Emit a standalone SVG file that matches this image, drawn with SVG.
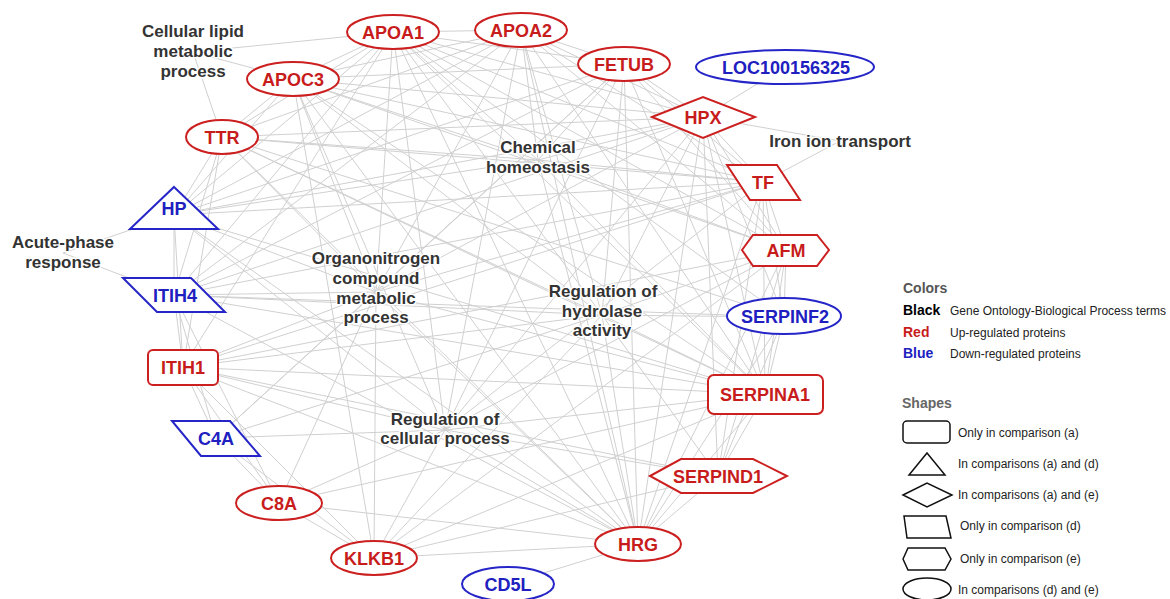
<svg xmlns="http://www.w3.org/2000/svg" width="1170" height="599" viewBox="0 0 1170 599">
<style>
.e line{stroke:#d0d0d0;stroke-width:1}
.r{fill:#fff;stroke:#cc2020;stroke-width:2}
.b{fill:#fff;stroke:#2626c8;stroke-width:2}
.rt{fill:#c81c1c;font:bold 18px "Liberation Sans",Arial,sans-serif;text-anchor:middle}
.bt{fill:#2020c0;font:bold 18px "Liberation Sans",Arial,sans-serif;text-anchor:middle}
.go{fill:#333;font:bold 17px "Liberation Sans",Arial,sans-serif;text-anchor:middle;stroke:#fff;stroke-width:3;paint-order:stroke;stroke-linejoin:round}
.lh{font:bold 14px "Liberation Sans",Arial,sans-serif;fill:#555}
.lt{font:12px "Liberation Sans",Arial,sans-serif;fill:#222}
.ls{fill:none;stroke:#111;stroke-width:1.5}
</style>
<rect width="1170" height="599" fill="#fff"/>
<g id="connectors" class="e">
<line x1="393" y1="32" x2="521" y2="30"/><line x1="393" y1="32" x2="293" y2="79"/><line x1="393" y1="32" x2="222" y2="137"/><line x1="393" y1="32" x2="174" y2="215"/><line x1="393" y1="32" x2="174" y2="295"/><line x1="393" y1="32" x2="183" y2="367"/><line x1="393" y1="32" x2="624" y2="64"/><line x1="393" y1="32" x2="703" y2="117"/><line x1="393" y1="32" x2="763" y2="182"/><line x1="393" y1="32" x2="786" y2="250"/><line x1="393" y1="32" x2="765" y2="394"/><line x1="393" y1="32" x2="638" y2="544"/><line x1="393" y1="32" x2="784" y2="317"/>
<line x1="521" y1="30" x2="293" y2="79"/><line x1="521" y1="30" x2="222" y2="137"/><line x1="521" y1="30" x2="624" y2="64"/><line x1="521" y1="30" x2="703" y2="117"/><line x1="521" y1="30" x2="763" y2="182"/><line x1="521" y1="30" x2="638" y2="544"/><line x1="521" y1="30" x2="765" y2="394"/><line x1="521" y1="30" x2="786" y2="250"/><line x1="521" y1="30" x2="174" y2="215"/><line x1="521" y1="30" x2="174" y2="295"/>
<line x1="293" y1="79" x2="222" y2="137"/><line x1="293" y1="79" x2="174" y2="215"/><line x1="293" y1="79" x2="703" y2="117"/><line x1="293" y1="79" x2="763" y2="182"/><line x1="293" y1="79" x2="765" y2="394"/><line x1="293" y1="79" x2="638" y2="544"/><line x1="293" y1="79" x2="624" y2="64"/><line x1="293" y1="79" x2="374" y2="558"/><line x1="293" y1="79" x2="786" y2="250"/>
<line x1="624" y1="64" x2="703" y2="117"/><line x1="624" y1="64" x2="763" y2="182"/><line x1="624" y1="64" x2="638" y2="544"/><line x1="624" y1="64" x2="174" y2="215"/><line x1="624" y1="64" x2="174" y2="295"/><line x1="624" y1="64" x2="765" y2="394"/><line x1="624" y1="64" x2="786" y2="250"/><line x1="624" y1="64" x2="216" y2="438"/>
<line x1="703" y1="117" x2="763" y2="182"/><line x1="703" y1="117" x2="786" y2="250"/><line x1="703" y1="117" x2="784" y2="317"/><line x1="703" y1="117" x2="765" y2="394"/><line x1="703" y1="117" x2="638" y2="544"/><line x1="703" y1="117" x2="174" y2="215"/><line x1="703" y1="117" x2="174" y2="295"/><line x1="703" y1="117" x2="222" y2="137"/><line x1="703" y1="117" x2="718" y2="476"/><line x1="703" y1="117" x2="785" y2="67"/>
<line x1="763" y1="182" x2="786" y2="250"/><line x1="763" y1="182" x2="784" y2="317"/><line x1="763" y1="182" x2="765" y2="394"/><line x1="763" y1="182" x2="638" y2="544"/><line x1="763" y1="182" x2="174" y2="215"/><line x1="763" y1="182" x2="174" y2="295"/><line x1="763" y1="182" x2="222" y2="137"/><line x1="763" y1="182" x2="718" y2="476"/><line x1="763" y1="182" x2="183" y2="367"/>
<line x1="786" y1="250" x2="784" y2="317"/><line x1="786" y1="250" x2="765" y2="394"/><line x1="786" y1="250" x2="638" y2="544"/><line x1="786" y1="250" x2="183" y2="367"/><line x1="786" y1="250" x2="718" y2="476"/><line x1="786" y1="250" x2="374" y2="558"/>
<line x1="784" y1="317" x2="765" y2="394"/><line x1="784" y1="317" x2="638" y2="544"/><line x1="784" y1="317" x2="718" y2="476"/><line x1="784" y1="317" x2="174" y2="295"/><line x1="784" y1="317" x2="222" y2="137"/>
<line x1="765" y1="394" x2="718" y2="476"/><line x1="765" y1="394" x2="638" y2="544"/><line x1="765" y1="394" x2="183" y2="367"/><line x1="765" y1="394" x2="174" y2="295"/><line x1="765" y1="394" x2="174" y2="215"/><line x1="765" y1="394" x2="374" y2="558"/><line x1="765" y1="394" x2="279" y2="503"/><line x1="765" y1="394" x2="222" y2="137"/>
<line x1="718" y1="476" x2="638" y2="544"/><line x1="718" y1="476" x2="374" y2="558"/><line x1="718" y1="476" x2="183" y2="367"/>
<line x1="638" y1="544" x2="508" y2="584"/><line x1="638" y1="544" x2="374" y2="558"/><line x1="638" y1="544" x2="279" y2="503"/><line x1="638" y1="544" x2="183" y2="367"/><line x1="638" y1="544" x2="174" y2="295"/><line x1="638" y1="544" x2="174" y2="215"/><line x1="638" y1="544" x2="222" y2="137"/>
<line x1="374" y1="558" x2="279" y2="503"/><line x1="374" y1="558" x2="183" y2="367"/><line x1="374" y1="558" x2="216" y2="438"/>
<line x1="279" y1="503" x2="216" y2="438"/><line x1="279" y1="503" x2="183" y2="367"/><line x1="279" y1="503" x2="174" y2="295"/>
<line x1="216" y1="438" x2="183" y2="367"/><line x1="216" y1="438" x2="174" y2="295"/>
<line x1="183" y1="367" x2="174" y2="295"/><line x1="183" y1="367" x2="174" y2="215"/><line x1="183" y1="367" x2="222" y2="137"/>
<line x1="174" y1="295" x2="174" y2="215"/><line x1="174" y1="295" x2="222" y2="137"/><line x1="174" y1="215" x2="222" y2="137"/>
<line x1="193" y1="52" x2="393" y2="32"/><line x1="193" y1="52" x2="293" y2="79"/><line x1="193" y1="52" x2="222" y2="137"/>
<line x1="63" y1="253" x2="174" y2="215"/><line x1="63" y1="253" x2="174" y2="295"/>
<line x1="840" y1="141" x2="763" y2="182"/><line x1="840" y1="141" x2="703" y2="117"/>
<line x1="538" y1="160" x2="393" y2="32"/><line x1="538" y1="160" x2="521" y2="30"/><line x1="538" y1="160" x2="293" y2="79"/><line x1="538" y1="160" x2="222" y2="137"/><line x1="538" y1="160" x2="703" y2="117"/><line x1="538" y1="160" x2="763" y2="182"/><line x1="538" y1="160" x2="624" y2="64"/><line x1="538" y1="160" x2="174" y2="215"/><line x1="538" y1="160" x2="786" y2="250"/><line x1="538" y1="160" x2="638" y2="544"/><line x1="538" y1="160" x2="765" y2="394"/>
<line x1="376" y1="292" x2="393" y2="32"/><line x1="376" y1="292" x2="521" y2="30"/><line x1="376" y1="292" x2="293" y2="79"/><line x1="376" y1="292" x2="222" y2="137"/><line x1="376" y1="292" x2="174" y2="215"/><line x1="376" y1="292" x2="174" y2="295"/><line x1="376" y1="292" x2="183" y2="367"/><line x1="376" y1="292" x2="216" y2="438"/><line x1="376" y1="292" x2="279" y2="503"/><line x1="376" y1="292" x2="374" y2="558"/><line x1="376" y1="292" x2="765" y2="394"/><line x1="376" y1="292" x2="638" y2="544"/><line x1="376" y1="292" x2="703" y2="117"/><line x1="376" y1="292" x2="763" y2="182"/><line x1="376" y1="292" x2="624" y2="64"/>
<line x1="602" y1="315" x2="393" y2="32"/><line x1="602" y1="315" x2="521" y2="30"/><line x1="602" y1="315" x2="293" y2="79"/><line x1="602" y1="315" x2="624" y2="64"/><line x1="602" y1="315" x2="703" y2="117"/><line x1="602" y1="315" x2="765" y2="394"/><line x1="602" y1="315" x2="718" y2="476"/><line x1="602" y1="315" x2="784" y2="317"/><line x1="602" y1="315" x2="638" y2="544"/><line x1="602" y1="315" x2="183" y2="367"/><line x1="602" y1="315" x2="174" y2="295"/><line x1="602" y1="315" x2="374" y2="558"/><line x1="602" y1="315" x2="216" y2="438"/><line x1="602" y1="315" x2="786" y2="250"/><line x1="602" y1="315" x2="222" y2="137"/>
<line x1="445" y1="430" x2="393" y2="32"/><line x1="445" y1="430" x2="293" y2="79"/><line x1="445" y1="430" x2="174" y2="215"/><line x1="445" y1="430" x2="183" y2="367"/><line x1="445" y1="430" x2="216" y2="438"/><line x1="445" y1="430" x2="279" y2="503"/><line x1="445" y1="430" x2="374" y2="558"/><line x1="445" y1="430" x2="638" y2="544"/><line x1="445" y1="430" x2="765" y2="394"/><line x1="445" y1="430" x2="718" y2="476"/><line x1="445" y1="430" x2="786" y2="250"/><line x1="445" y1="430" x2="763" y2="182"/><line x1="445" y1="430" x2="703" y2="117"/><line x1="445" y1="430" x2="624" y2="64"/><line x1="445" y1="430" x2="521" y2="30"/>
</g>
<g id="go-cellular-lipid"><text class="go" x="193" y="37">Cellular lipid<tspan x="193" y="57">metabolic</tspan><tspan x="193" y="77">process</tspan></text></g>
<g id="go-acute-phase"><text class="go" x="63" y="248">Acute-phase<tspan x="63" y="268">response</tspan></text></g>
<g id="go-chemical"><text class="go" x="538" y="153">Chemical<tspan x="538" y="173">homeostasis</tspan></text></g>
<g id="go-iron"><text class="go" x="840" y="147">Iron ion transport</text></g>
<g id="go-organonitrogen"><text class="go" x="376" y="264">Organonitrogen<tspan x="376" y="284">compound</tspan><tspan x="376" y="304">metabolic</tspan><tspan x="376" y="323">process</tspan></text></g>
<g id="go-hydrolase"><text class="go" x="603" y="297">Regulation of<tspan x="602" y="317">hydrolase</tspan><tspan x="602" y="336">activity</tspan></text></g>
<g id="go-cellular-process"><text class="go" x="445" y="425">Regulation of<tspan x="445" y="444">cellular process</tspan></text></g>
<g id="APOA1"><ellipse class="r" cx="393" cy="32" rx="46" ry="17"/><text class="rt" x="393" y="38.5">APOA1</text></g>
<g id="APOA2"><ellipse class="r" cx="521" cy="30" rx="46" ry="17"/><text class="rt" x="521" y="36.5">APOA2</text></g>
<g id="FETUB"><ellipse class="r" cx="624" cy="64" rx="46" ry="17"/><text class="rt" x="624" y="70.5">FETUB</text></g>
<g id="LOC100156325"><ellipse class="b" cx="785" cy="67" rx="89" ry="17"/><text class="bt" x="786" y="73.5">LOC100156325</text></g>
<g id="HPX"><polygon class="r" points="652,117 703,97 755,117 703,138"/><text class="rt" x="703" y="124">HPX</text></g>
<g id="TF"><polygon class="r" points="727,165 777,165 800,200 750,200"/><text class="rt" x="763" y="189">TF</text></g>
<g id="AFM"><polygon class="r" points="742,250 753,235 817,235 829,250 817,266 753,266"/><text class="rt" x="786" y="257">AFM</text></g>
<g id="SERPINF2"><ellipse class="b" cx="784" cy="316" rx="57" ry="18"/><text class="bt" x="785" y="322.5">SERPINF2</text></g>
<g id="SERPINA1"><rect class="r" x="708" y="375" width="115" height="39" rx="6"/><text class="rt" x="765" y="400.5">SERPINA1</text></g>
<g id="SERPIND1"><polygon class="r" points="650,476 681,459 753,459 787,476 753,493 681,493"/><text class="rt" x="718" y="482.5">SERPIND1</text></g>
<g id="HRG"><ellipse class="r" cx="638" cy="544" rx="43" ry="17"/><text class="rt" x="638" y="550.5">HRG</text></g>
<g id="CD5L"><ellipse class="b" cx="508" cy="584" rx="46" ry="17"/><text class="bt" x="508" y="590.5">CD5L</text></g>
<g id="KLKB1"><ellipse class="r" cx="374" cy="558" rx="43" ry="17"/><text class="rt" x="374" y="564.5">KLKB1</text></g>
<g id="C8A"><ellipse class="r" cx="279" cy="503" rx="43" ry="17"/><text class="rt" x="279" y="509.5">C8A</text></g>
<g id="C4A"><polygon class="b" points="172,421 230,421 260,456 201,456"/><text class="bt" x="216" y="445">C4A</text></g>
<g id="ITIH1"><rect class="r" x="148" y="350" width="70" height="35" rx="5"/><text class="rt" x="183" y="373.5">ITIH1</text></g>
<g id="ITIH4"><polygon class="b" points="123,278 191,278 225,312 157,312"/><text class="bt" x="175" y="302">ITIH4</text></g>
<g id="HP"><polygon class="b" points="174,187 218,229 130,229"/><text class="bt" x="174" y="215">HP</text></g>
<g id="TTR"><ellipse class="r" cx="222" cy="137" rx="36" ry="17"/><text class="rt" x="222" y="143.5">TTR</text></g>
<g id="APOC3"><ellipse class="r" cx="293" cy="79" rx="46" ry="17"/><text class="rt" x="293" y="85.5">APOC3</text></g>
<g id="legend">
<text class="lh" x="903" y="293">Colors</text>
<text x="903" y="315" style="font:bold 14px 'Liberation Sans',Arial,sans-serif;fill:#000">Black</text>
<text class="lt" x="950" y="315">Gene Ontology-Biological Process terms</text>
<text x="903" y="337" style="font:bold 14px 'Liberation Sans',Arial,sans-serif;fill:#c81c1c">Red</text>
<text class="lt" x="950" y="337">Up-regulated proteins</text>
<text x="903" y="358" style="font:bold 14px 'Liberation Sans',Arial,sans-serif;fill:#2020c0">Blue</text>
<text class="lt" x="950" y="358">Down-regulated proteins</text>
<text class="lh" x="902" y="408" style="fill:#666">Shapes</text>
<rect class="ls" x="903" y="421" width="47" height="22" rx="4"/>
<text class="lt" x="958" y="437">Only in comparison (a)</text>
<polygon class="ls" points="927,453 945,475 909,475"/>
<text class="lt" x="958" y="468">In comparisons (a) and (d)</text>
<polygon class="ls" points="903,495 927,483 952,495 927,507"/>
<text class="lt" x="958" y="499">In comparisons (a) and (e)</text>
<polygon class="ls" points="904,516 946,516 951,538 907,538"/>
<text class="lt" x="960" y="530">Only in comparison (d)</text>
<polygon class="ls" points="903,559 908,548 945,548 951,559 945,570 908,570"/>
<text class="lt" x="960" y="563">Only in comparison (e)</text>
<ellipse class="ls" cx="927" cy="589" rx="24" ry="11"/>
<text class="lt" x="958" y="594">In comparisons (d) and (e)</text>
</g>
</svg>
